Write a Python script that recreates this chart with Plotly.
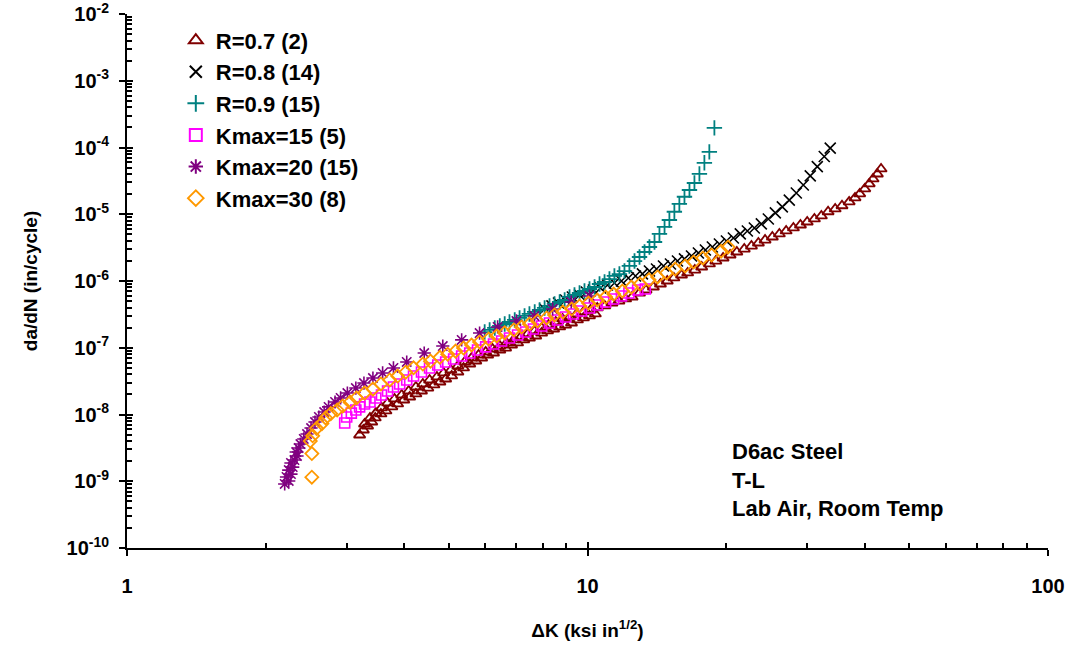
import plotly.graph_objects as go

# ---------------- data ----------------
r07_dk = [3.20, 3.26, 3.33, 3.40, 3.46, 3.56, 3.65, 3.76, 3.87, 3.99, 4.11, 4.24, 4.36, 4.50,
          4.64, 4.78, 4.92, 5.07, 5.23, 5.38, 5.55, 5.72, 5.89, 6.07, 6.25, 6.45, 6.64, 6.84,
          7.05, 7.27, 7.48, 7.72, 7.95, 8.19, 8.44, 8.70, 8.96, 9.23, 9.51, 9.80, 10.1, 10.4,
          3.28, 3.37, 3.47, 3.57, 3.68, 3.81, 3.95, 4.09, 4.24, 4.39, 4.54, 4.71, 4.87, 5.05,
          5.23, 5.41, 5.60, 5.80, 6.01, 6.22, 6.45, 6.67, 6.91, 7.16, 7.41, 7.67, 7.95, 8.23,
          8.53, 8.83, 9.14, 9.47, 9.80, 10.15, 10.5, 10.9, 11.3, 11.7, 12.1, 12.5, 12.97, 13.4,
          13.9, 14.4, 14.9, 15.4, 16.0, 16.5, 17.1, 17.7, 18.4, 19.0, 19.7, 20.4, 21.1, 21.9,
          22.7, 23.5, 24.3, 25.2, 26.1, 27.0, 28.0, 29.0, 30.0, 31.1, 32.2, 33.3, 34.5, 35.7,
          37.0, 38.1, 39.0, 40.0, 40.9, 41.7, 42.6, 43.4]
r07_dadn = [4.93e-9, 5.86e-9, 6.73e-9, 7.72e-9, 8.88e-9, 1.02e-8, 1.13e-8, 1.30e-8, 1.44e-8,
            1.65e-8, 1.83e-8, 2.03e-8, 2.25e-8, 2.49e-8, 2.77e-8, 3.07e-8, 3.40e-8, 3.78e-8,
            4.33e-8, 4.98e-8, 5.71e-8, 6.33e-8, 7.02e-8, 7.79e-8, 8.34e-8, 9.25e-8, 9.9e-8,
            1.10e-7, 1.18e-7, 1.31e-7, 1.40e-7, 1.50e-7, 1.66e-7, 1.79e-7, 1.91e-7, 2.05e-7,
            2.19e-7, 2.35e-7, 2.61e-7, 2.80e-7, 3.00e-7, 3.21e-7,
            7.21e-9, 8.87e-9, 1.05e-8, 1.26e-8, 1.49e-8, 1.71e-8, 1.96e-8, 2.25e-8, 2.58e-8,
            2.87e-8, 3.29e-8, 3.65e-8, 4.19e-8, 4.64e-8, 5.33e-8, 6.12e-8, 7.02e-8, 7.79e-8,
            8.63e-8, 9.57e-8, 1.06e-7, 1.18e-7, 1.31e-7, 1.45e-7, 1.61e-7, 1.79e-7, 1.98e-7,
            2.19e-7, 2.43e-7, 2.70e-7, 2.89e-7, 3.21e-7, 3.44e-7, 3.68e-7, 3.95e-7, 4.23e-7,
            4.68e-7, 5.01e-7, 5.38e-7, 5.76e-7, 6.61e-7, 7.33e-7, 8.13e-7, 9.02e-7, 1.00e-6,
            1.11e-6, 1.23e-6, 1.32e-6, 1.46e-6, 1.62e-6, 1.80e-6, 1.99e-6, 2.21e-6, 2.45e-6,
            2.72e-6, 3.01e-6, 3.34e-6, 3.71e-6, 4.11e-6, 4.56e-6, 5.07e-6, 5.62e-6, 6.23e-6,
            6.90e-6, 7.66e-6, 8.50e-6, 9.43e-6, 1.09e-5, 1.20e-5, 1.34e-5, 1.53e-5, 1.76e-5,
            2.02e-5, 2.40e-5, 2.85e-5, 3.38e-5, 4.01e-5, 4.77e-5]

r08_dk = [8.07, 8.37, 8.65, 8.96, 9.27, 9.61, 9.94, 10.3, 10.67, 11.05, 11.44, 11.85, 12.27,
          12.71, 13.16, 13.63, 14.12, 14.62, 15.14, 15.68, 16.24, 16.82, 17.41, 18.03, 18.67,
          19.34, 20.03, 20.74, 21.47, 22.24, 23.03, 23.85, 24.70, 25.58, 26.49, 27.43, 28.41,
          29.42, 30.46, 31.55, 32.67, 33.66]
r08_dadn = [3.81e-7, 4.23e-7, 4.68e-7, 5.19e-7, 5.76e-7, 6.17e-7, 6.84e-7, 7.33e-7, 7.86e-7,
            8.71e-7, 9.34e-7, 1.00e-6, 1.11e-6, 1.19e-6, 1.28e-6, 1.41e-6, 1.51e-6, 1.68e-6,
            1.80e-6, 1.99e-6, 2.14e-6, 2.37e-6, 2.63e-6, 2.91e-6, 3.23e-6, 3.58e-6, 3.97e-6,
            4.41e-6, 5.07e-6, 5.62e-6, 6.23e-6, 7.16e-6, 8.50e-6, 1.05e-5, 1.29e-5, 1.63e-5,
            2.08e-5, 2.74e-5, 3.76e-5, 5.17e-5, 7.32e-5, 9.8e-5]

r09_dk = [5.98, 6.13, 6.29, 6.45, 6.61, 6.77, 6.95, 7.12, 7.30, 7.48, 7.68, 7.87, 8.07, 8.27,
          8.48, 8.70, 8.92, 9.14, 9.37, 9.61, 9.85, 10.1, 10.36, 10.62, 10.89, 11.16, 11.44,
          11.73, 12.03, 12.33, 12.65, 12.97, 13.30, 13.63, 13.98, 14.33, 14.70, 15.06, 15.44,
          15.83, 16.24, 16.65, 17.07, 17.50, 17.94, 18.39, 18.86]
r09_dadn = [1.72e-7, 1.85e-7, 1.98e-7, 2.12e-7, 2.27e-7, 2.43e-7, 2.61e-7, 2.80e-7, 3.00e-7,
            3.21e-7, 3.44e-7, 3.68e-7, 3.95e-7, 4.23e-7, 4.53e-7, 4.85e-7, 5.19e-7, 5.76e-7,
            6.17e-7, 6.61e-7, 7.08e-7, 7.59e-7, 8.13e-7, 9.02e-7, 9.66e-7, 1.07e-6, 1.19e-6,
            1.27e-6, 1.41e-6, 1.68e-6, 1.99e-6, 2.29e-6, 2.72e-6, 3.23e-6, 3.84e-6, 5.07e-6,
            6.46e-6, 8.20e-6, 1.09e-5, 1.43e-5, 1.83e-5, 2.31e-5, 2.94e-5, 4.02e-5, 5.9e-5,
            8.6e-5, 1.97e-4]

k15_dk = [2.97, 3.00, 3.07, 3.14, 3.20, 3.28, 3.37, 3.47, 3.57, 3.68, 3.79, 3.91, 4.05, 4.19,
          4.36, 4.54, 4.73, 4.92, 5.12, 5.33, 5.55, 5.77, 6.01, 6.25, 6.51, 6.77, 7.05, 7.34,
          7.63, 7.95, 8.27, 8.61, 8.96, 9.32, 9.70, 10.1, 10.5, 10.95, 11.4, 11.85, 12.3,
          12.85, 13.35]
k15_dadn = [7.47e-9, 9.18e-9, 1.05e-8, 1.17e-8, 1.30e-8, 1.44e-8, 1.54e-8, 1.77e-8, 1.96e-8,
            2.25e-8, 2.58e-8, 2.87e-8, 3.29e-8, 3.78e-8, 4.33e-8, 4.98e-8, 5.52e-8, 6.12e-8,
            6.78e-8, 7.52e-8, 8.34e-8, 9.25e-8, 1.03e-7, 1.14e-7, 1.26e-7, 1.40e-7, 1.55e-7,
            1.72e-7, 1.91e-7, 2.12e-7, 2.35e-7, 2.61e-7, 2.89e-7, 3.21e-7, 3.56e-7, 3.95e-7,
            4.37e-7, 4.85e-7, 5.38e-7, 5.96e-7, 6.61e-7, 7.33e-7, 7.59e-7]

k20_dk = [2.20, 2.245, 2.22, 2.27, 2.245, 2.29, 2.27, 2.31, 2.34, 2.33, 2.36, 2.38, 2.42, 2.46,
          2.51, 2.56, 2.61, 2.68, 2.74, 2.83, 2.91, 3.01, 3.14, 3.27, 3.42, 3.59, 3.79, 4.05,
          4.42, 4.85, 5.33, 5.83, 6.38, 7.01, 7.67, 8.40, 9.22, 10.1]
k20_dadn = [9.1e-10, 1.01e-9, 1.16e-9, 1.28e-9, 1.47e-9, 1.63e-9, 1.88e-9, 2.08e-9, 2.39e-9,
            2.74e-9, 3.15e-9, 3.61e-9, 4.30e-9, 5.1e-9, 6.28e-9, 7.72e-9, 9.18e-9, 1.09e-8,
            1.30e-8, 1.54e-8, 1.77e-8, 2.10e-8, 2.49e-8, 2.96e-8, 3.52e-8, 4.19e-8, 4.98e-8,
            6.12e-8, 8.34e-8, 1.06e-7, 1.31e-7, 1.66e-7, 2.05e-7, 2.52e-7, 2.99e-7, 3.81e-7,
            4.85e-7, 5.96e-7]

k30_dk = [2.52, 2.52, 2.50, 2.53, 2.58, 2.65, 2.70, 2.77, 2.86, 2.94, 3.05, 3.15, 3.28, 3.42,
          3.56, 3.72, 3.87, 4.03, 4.19, 4.39, 4.56, 4.78, 4.97, 5.17, 5.38, 5.60, 5.83, 6.10,
          6.35, 6.61, 6.92, 7.19, 7.48, 7.79, 8.15, 8.48, 8.84, 9.24, 9.61, 10.05, 10.5, 10.95,
          11.4, 11.9, 12.45, 13.0, 13.6, 14.2, 14.85, 15.5, 16.3, 17.0, 17.8, 18.6, 19.5, 20.2]
k30_dadn = [1.15e-9, 2.6e-9, 4.0e-9, 4.8e-9, 6.2e-9, 7.3e-9, 8.9e-9, 1.03e-8, 1.17e-8, 1.34e-8,
            1.53e-8, 1.77e-8, 2.1e-8, 2.4e-8, 2.87e-8, 3.29e-8, 3.77e-8, 4.3e-8, 5.0e-8, 5.7e-8,
            6.3e-8, 7.2e-8, 8.0e-8, 8.9e-8, 9.9e-8, 1.10e-7, 1.22e-7, 1.35e-7, 1.50e-7, 1.67e-7,
            1.85e-7, 2.04e-7, 2.27e-7, 2.52e-7, 2.80e-7, 3.10e-7, 3.43e-7, 3.80e-7, 4.22e-7,
            4.68e-7, 5.19e-7, 5.75e-7, 6.38e-7, 7.08e-7, 8.1e-7, 9.0e-7, 1.04e-6, 1.15e-6,
            1.32e-6, 1.51e-6, 1.68e-6, 1.92e-6, 2.21e-6, 2.45e-6, 2.80e-6, 3.22e-6]

series_names = ["R=0.7 (2)", "R=0.8 (14)", "R=0.9 (15)", "Kmax=15 (5)", "Kmax=20 (15)", "Kmax=30 (8)"]

x_ticks = [1, 10, 100]
x_ticklabels = ["1", "10", "100"]
y_ticks = [1e-10, 1e-9, 1e-8, 1e-7, 1e-6, 1e-5, 1e-4, 1e-3, 1e-2]
y_ticklabels = ["10<sup>-10</sup>", "10<sup>-9</sup>", "10<sup>-8</sup>", "10<sup>-7</sup>",
                "10<sup>-6</sup>", "10<sup>-5</sup>", "10<sup>-4</sup>", "10<sup>-3</sup>",
                "10<sup>-2</sup>"]

note_lines = ["D6ac Steel", "T-L", "Lab Air, Room Temp"]

# ---------------- figure ----------------
FONT = "Liberation Sans, Arial, sans-serif"

styles = [
    dict(symbol="triangle-up-open", color="#800000", size=10, lw=1.8),
    dict(symbol="x-thin-open", color="#000000", size=11, lw=1.6),
    dict(symbol="cross-thin-open", color="#008080", size=11, lw=1.8),
    dict(symbol="square-open", color="#FF00FF", size=10, lw=1.6),
    dict(symbol="asterisk-open", color="#800080", size=11, lw=1.6),
    dict(symbol="diamond-open", color="#FF9900", size=10, lw=1.8),
]
data = [(r07_dk, r07_dadn), (r08_dk, r08_dadn), (r09_dk, r09_dadn),
        (k15_dk, k15_dadn), (k20_dk, k20_dadn), (k30_dk, k30_dadn)]

fig = go.Figure()
for i, ((xs, ys), name, st) in enumerate(zip(data, series_names, styles)):
    fig.add_trace(go.Scatter(
        x=xs, y=ys, mode="markers", name=name, legendgroup=f"g{i}",
        marker=dict(symbol=st["symbol"], size=st["size"], color=st["color"],
                    line=dict(color=st["color"], width=st["lw"])),
    ))

# invisible trace to activate overlay axes (used for crossing major ticks)
fig.add_trace(go.Scatter(x=[], y=[], xaxis="x2", yaxis="y2", showlegend=False, hoverinfo="skip"))

minor_x = [m * 10 ** e for e in range(0, 2) for m in range(2, 10)]
minor_y = [m * 10.0 ** e for e in range(-10, -2) for m in range(2, 10)]

fig.update_layout(
    width=1076, height=649,
    margin=dict(l=127, r=28, t=14, b=101, autoexpand=False),
    paper_bgcolor="white", plot_bgcolor="white",
    font=dict(family=FONT, color="black", size=18),
    showlegend=True,
    legend=dict(x=0.053, y=0.99, xanchor="left", yanchor="top",
                bgcolor="rgba(0,0,0,0)", borderwidth=0, tracegroupgap=0,
                font=dict(family=FONT, size=22, color="black", weight="bold"),
                itemsizing="constant"),
    xaxis=dict(type="log", range=[0, 2], showgrid=False, zeroline=False,
               showline=True, linecolor="black", linewidth=2, mirror=False,
               tickmode="array", tickvals=x_ticks,
               ticktext=[f"<b>{t}</b>" for t in x_ticklabels],
               ticks="outside", ticklen=6, tickwidth=2, tickcolor="black",
               tickfont=dict(family=FONT, size=20, color="black"),
               ticklabelstandoff=13, ticklabeloverflow="allow",
               minor=dict(tickmode="array", tickvals=minor_x, ticks="inside",
                          ticklen=5, tickwidth=1.5, tickcolor="black", showgrid=False),
               title=dict(text="<b>ΔK (ksi in<sup>1/2</sup>)</b>", standoff=28,
                          font=dict(family=FONT, size=19, color="black")),
               anchor="y"),
    yaxis=dict(type="log", range=[-10, -2], showgrid=False, zeroline=False,
               showline=True, linecolor="black", linewidth=2, mirror=False,
               tickmode="array", tickvals=y_ticks,
               ticktext=[f"<b>{t}</b>" for t in y_ticklabels],
               ticks="outside", ticklen=6, tickwidth=2, tickcolor="black",
               tickfont=dict(family=FONT, size=20, color="black"),
               ticklabelstandoff=6, ticklabeloverflow="allow",
               minor=dict(tickmode="array", tickvals=minor_y, ticks="inside",
                          ticklen=5, tickwidth=1.5, tickcolor="black", showgrid=False),
               title=dict(text="<b>da/dN (in/cycle)</b>", standoff=24,
                          font=dict(family=FONT, size=19, color="black")),
               anchor="x"),
    xaxis2=dict(type="log", range=[0, 2], overlaying="x", anchor="y", side="bottom",
                showgrid=False, zeroline=False, showline=False, showticklabels=False,
                tickmode="array", tickvals=x_ticks, ticks="inside", ticklen=6,
                tickwidth=2, tickcolor="black"),
    yaxis2=dict(type="log", range=[-10, -2], overlaying="y", anchor="x", side="left",
                showgrid=False, zeroline=False, showline=False, showticklabels=False,
                tickmode="array", tickvals=y_ticks, ticks="inside", ticklen=6,
                tickwidth=2, tickcolor="black"),
)

fig.add_annotation(
    xref="paper", yref="paper", x=0.655, y=0.207, xanchor="left", yanchor="top",
    align="left", showarrow=False,
    text="<br>".join(f"<b>{t}</b>" for t in note_lines),
    font=dict(family=FONT, size=22, color="black"),
)

# remove the default 8px page margin so the figure fills the window exactly
fig.write_html("out.html", config={"displayModeBar": False},
               post_script="document.body.style.margin='0';")
